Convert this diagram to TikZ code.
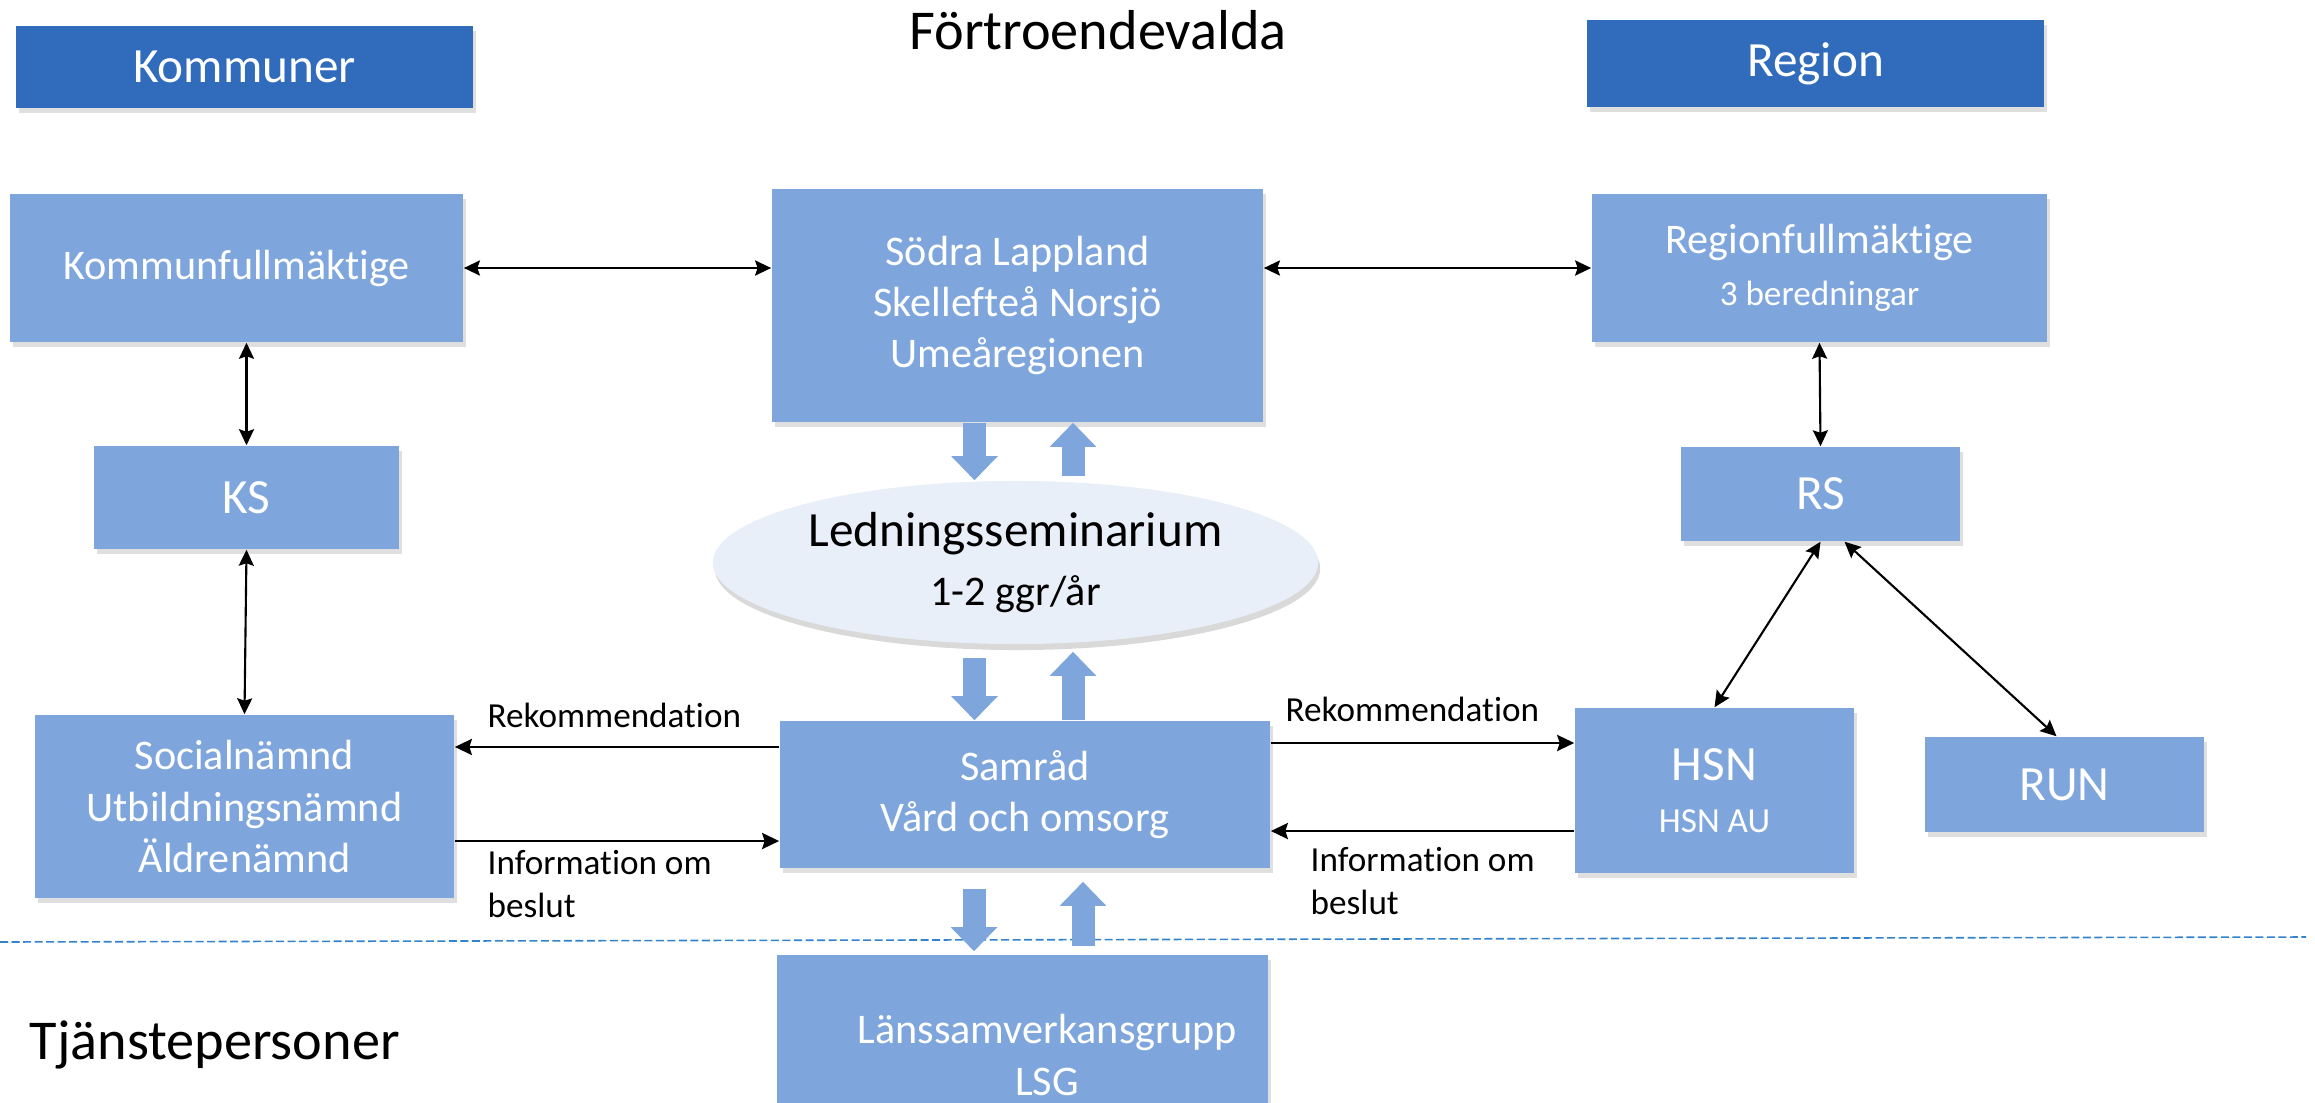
\documentclass[tikz,border=0pt]{standalone}
\usepackage{fontspec}
\setmainfont{Carlito}[Ligatures=NoCommon]
\usepackage{tikz}
\usetikzlibrary{shapes,arrows.meta,positioning,calc,shadows}
\definecolor{boxblue}{RGB}{127,166,220}
\definecolor{headblue}{RGB}{49,107,187}
\definecolor{ellfill}{RGB}{233,239,248}
\definecolor{lineblue}{RGB}{50,130,205}

\begin{document}
\begin{tikzpicture}[x=0.01cm,y=-0.01cm,
    box/.style={rectangle,fill=boxblue,text=white,align=center,inner sep=0pt,
        font=\fontsize{12}{14.6}\selectfont,
        drop shadow={opacity=0.25,shadow xshift=0.03cm,shadow yshift=-0.05cm}},
    bigbox/.style={box,font=\fontsize{14}{17}\selectfont},
    titlebox/.style={rectangle,fill=headblue,text=white,inner sep=0pt,
        minimum width=4.57cm,font=\fontsize{14}{17}\selectfont,
        drop shadow={opacity=0.25,shadow xshift=0.03cm,shadow yshift=-0.05cm}},
    link/.style={{Stealth[length=0.16cm,width=0.15cm,inset=0.025cm]}-{Stealth[length=0.16cm,width=0.15cm,inset=0.025cm]},line width=0.6pt},
    flow/.style={-{Stealth[length=0.17cm,width=0.16cm,inset=0.025cm]},line width=0.8pt},
    fatarrow/.style={-{Triangle[width=0.45cm,length=0.24cm]},line width=0.23cm,draw=boxblue},
    note/.style={font=\fontsize{10}{12.2}\selectfont,align=left,inner sep=0pt}]
    \useasboundingbox (0,0) rectangle (2315,1103);
    \clip (0,0) rectangle (2315,1103);

    \node[titlebox,minimum height=0.82cm] (kommuner) at (244.5,67) {Kommuner};
    \node[titlebox,minimum height=0.87cm] (region) at (1815.5,63.5) {Region};
    \node[font=\fontsize{16}{19}\selectfont] (fortr) at (1098,30) {Förtroendevalda};

    \node[box,minimum width=4.53cm,minimum height=1.48cm] (kf) at (236.5,268) {Kommunfullmäktige};
    \node[box,minimum width=4.91cm,minimum height=2.33cm] (sodra) at (1017.5,305.5)
        {Södra Lappland\\Skellefteå Norsjö\\Umeåregionen};
    \node[box,minimum width=4.55cm,minimum height=1.48cm] (rf) at (1819.5,268)
        {Regionfullmäktige\\{\fontsize{10}{12}\selectfont 3 beredningar}};
    \node[bigbox,minimum width=3.05cm,minimum height=1.03cm] (ks) at (246.5,497.5) {KS};
    \node[bigbox,minimum width=2.79cm,minimum height=0.94cm] (rs) at (1820.5,494) {RS};
    \node[ellipse,fill=ellfill,inner sep=0pt,minimum width=6.05cm,minimum height=1.63cm,align=center,
        font=\fontsize{14}{17}\selectfont,
        drop shadow={opacity=0.3,shadow xshift=0.02cm,shadow yshift=-0.06cm}] (ledn) at (1015.5,562.5)
        {Ledningsseminarium\\{\fontsize{12}{14}\selectfont 1-2 ggr/år}};
    \node[box,minimum width=4.19cm,minimum height=1.83cm] (soc) at (244.5,806.5)
        {Socialnämnd\\Utbildningsnämnd\\Äldrenämnd};
    \node[box,minimum width=4.9cm,minimum height=1.47cm] (samrad) at (1025,794.5) {Samråd\\Vård och omsorg};
    \node[box,minimum width=2.79cm,minimum height=1.65cm] (hsn) at (1714.5,790.5)
        {{\fontsize{14}{17}\selectfont HSN}\\{\fontsize{10}{12}\selectfont HSN AU}};
    \node[bigbox,minimum width=2.79cm,minimum height=0.95cm] (run) at (2064.5,784.5) {RUN};
    \node[box,minimum width=4.91cm,minimum height=2.05cm] (lsg) at (1022.5,1057.5) {};
    \node[text=white,align=center,font=\fontsize{12}{14.6}\selectfont] (lsgtext)
        at ([xshift=0.245cm,yshift=0.025cm]lsg.center) {Länssamverkansgrupp\\LSG};
    \node[font=\fontsize{16}{19}\selectfont,anchor=west,inner sep=0pt] (tjanst) at (29,1045) {Tjänstepersoner};

    \draw[lineblue,dash pattern=on 0.08cm off 0.035cm,line width=0.45pt] (0,942) -- (2306,937);

    \draw[link,line width=0.8pt] (kf.east) -- (kf.east -| sodra.west);
    \draw[link,line width=0.8pt] (sodra.east |- rf.west) -- (rf.west);
    \draw[link] (ks.north |- kf.south) -- (ks.north);
    \draw[link] (ks.south) -- (soc.north);
    \draw[link] (rf.south) -- (rs.north);
    \draw[link] (rs.south) -- (hsn.north);
    \draw[link] ([xshift=0.24cm]rs.south) -- ([xshift=-0.08cm]run.north);

    \coordinate (rekL) at ([yshift=0.475cm]samrad.west);
    \coordinate (infL) at ([yshift=-0.465cm]samrad.west);
    \coordinate (rekR) at ([yshift=0.515cm]samrad.east);
    \coordinate (infR) at ([yshift=-0.365cm]samrad.east);
    \draw[flow] (rekL) -- (rekL -| soc.east);
    \draw[flow] (infL -| soc.east) -- (infL);
    \draw[flow] (rekR) -- (rekR -| hsn.west);
    \draw[flow] (infR -| hsn.west) -- (infR);

    \node[note,anchor=base west] (rekltext) at (487,727) {Rekommendation};
    \node[note,anchor=north west] (infltext) at (487,850) {Information om\\beslut};
    \node[note,anchor=base west] (rekrtext) at (1285,721) {Rekommendation};
    \node[note,anchor=north west] (infrtext) at (1310,847) {Information om\\beslut};

    \coordinate (d1) at ($(sodra.south)+(-43,0)$);
    \coordinate (u1) at ($(sodra.south)+(55.5,0)$);
    \coordinate (d2) at ($(samrad.north)+(-50.5,0)$);
    \coordinate (u2) at ($(samrad.north)+(48,0)$);
    \coordinate (d3) at ($(samrad.south)+(-51,0)$);
    \coordinate (u3) at ($(samrad.south)+(58,0)$);
    \draw[fatarrow] (d1) -- (d1 |- ledn.north);
    \draw[fatarrow,shorten <=0.04cm] (u1 |- ledn.north) -- (u1);
    \draw[fatarrow,shorten <=0.13cm] (d2 |- ledn.south) -- (d2);
    \draw[fatarrow,shorten >=0.07cm] (u2) -- (u2 |- ledn.south);
    \draw[fatarrow,shorten <=0.2cm,shorten >=0.03cm] (d3) -- (d3 |- lsg.north);
    \draw[fatarrow,shorten <=0.08cm,shorten >=0.13cm] (u3 |- lsg.north) -- (u3);
\end{tikzpicture}
\end{document}
